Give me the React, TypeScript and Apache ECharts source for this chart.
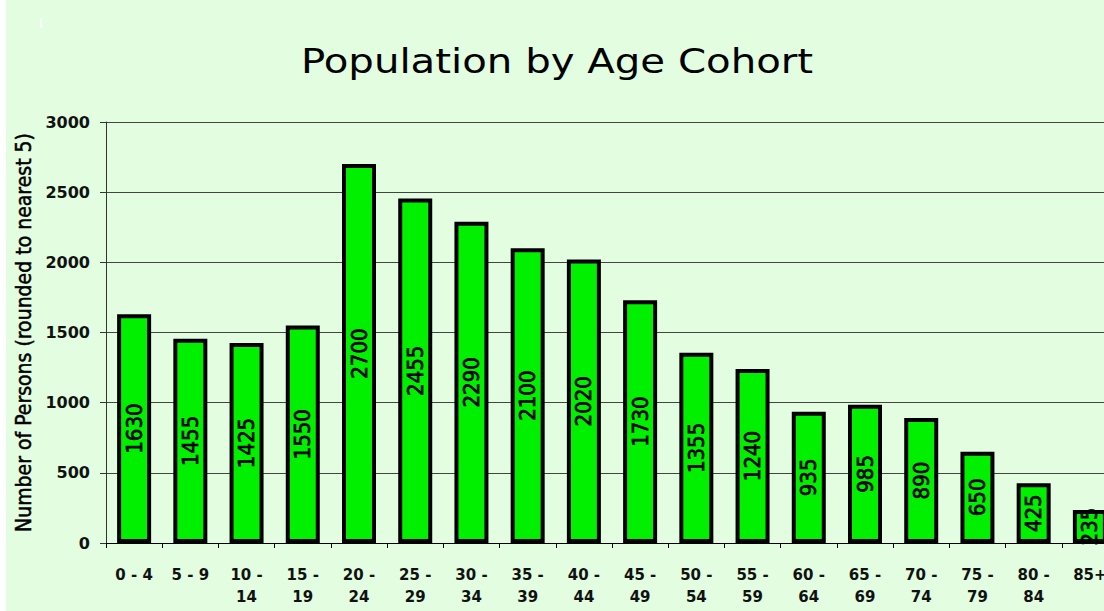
import React, { useEffect, useRef } from "react";
import * as echarts from "echarts";

const categories = [
  "0 - 4", "5 - 9", "10 -\n14", "15 -\n19", "20 -\n24", "25 -\n29", "30 -\n34", "35 -\n39",
  "40 -\n44", "45 -\n49", "50 -\n54", "55 -\n59", "60 -\n64", "65 -\n69", "70 -\n74", "75 -\n79",
  "80 -\n84", "85+",
];
const population = [1630, 1455, 1425, 1550, 2700, 2455, 2290, 2100, 2020, 1730, 1355, 1240, 935, 985, 890, 650, 425, 235];
const yTicks = { min: 0, max: 3000, interval: 500 };
const titleText = "Population by Age Cohort";
const yAxisTitle = "Number of Persons (rounded to nearest 5)";

const NARROW = "'DejaVu Sans Condensed', 'Liberation Sans Narrow', 'Liberation Sans', sans-serif";

export default function App() {
  const ref = useRef<HTMLDivElement>(null);
  useEffect(() => {
    document.body.style.margin = "0";
    document.body.style.overflow = "hidden";
    const chart = echarts.init(ref.current!, null, { renderer: "svg" });
    chart.setOption({
      animation: false,
      backgroundColor: "#e2fde0",
      graphic: [
        { type: "rect", shape: { x: 34, y: 18, width: 2, height: 10 }, style: { fill: "#ffffff" } },
        {
          type: "text",
          x: 551,
          y: 62,
          scaleX: 1.22,
          scaleY: 1,
          style: {
            text: titleText,
            fontFamily: "DejaVu Sans",
            fontSize: 33,
            fill: "#000",
            align: "center",
            verticalAlign: "middle",
          },
        },
      ],
      grid: { left: 100, right: 10, top: 122, bottom: 68, outerBoundsMode: "none", containLabel: false },
      xAxis: {
        type: "category",
        data: categories,
        axisLine: { lineStyle: { color: "#000", width: 1 } },
        axisTick: { show: true, length: 5, lineStyle: { color: "#000" } },
        axisLabel: {
          interval: 0,
          margin: 21,
          fontFamily: "DejaVu Sans",
          fontWeight: "bold",
          fontSize: 15,
          lineHeight: 22,
          color: "#111",
        },
      },
      yAxis: {
        type: "value",
        min: yTicks.min,
        max: yTicks.max,
        interval: yTicks.interval,
        name: yAxisTitle,
        nameLocation: "middle",
        nameGap: 72,
        nameTextStyle: {
          fontFamily: NARROW,
          fontSize: 21,
          color: "#000",
          textBorderColor: "#000",
          textBorderWidth: 0.5,
        },
        axisLine: { show: true, lineStyle: { color: "#333", width: 1 } },
        axisTick: { show: true, length: 6, lineStyle: { color: "#333" } },
        axisLabel: {
          margin: 16,
          fontFamily: "DejaVu Sans",
          fontWeight: "bold",
          fontSize: 16,
          color: "#111",
          formatter: (v: number) => String(v),
        },
        splitLine: { show: true, lineStyle: { color: "#444", width: 1 } },
      },
      series: [
        {
          type: "bar",
          data: population,
          barWidth: 34,
          itemStyle: { color: "#00f000", borderColor: "#000", borderWidth: 4 },
          label: {
            show: true,
            position: "inside",
            rotate: 90,
            fontFamily: NARROW,
            fontSize: 22,
            color: "#000",
            textBorderColor: "#000",
            textBorderWidth: 0.7,
          },
        },
      ],
    });
    return () => chart.dispose();
  }, []);
  return (
    <div style={{ width: 1104, height: 611, overflow: "hidden", position: "relative", background: "#ffffff" }}>
      <div ref={ref} style={{ position: "absolute", left: 6, top: 0, width: 1122, height: 611 }} />
    </div>
  );
}
